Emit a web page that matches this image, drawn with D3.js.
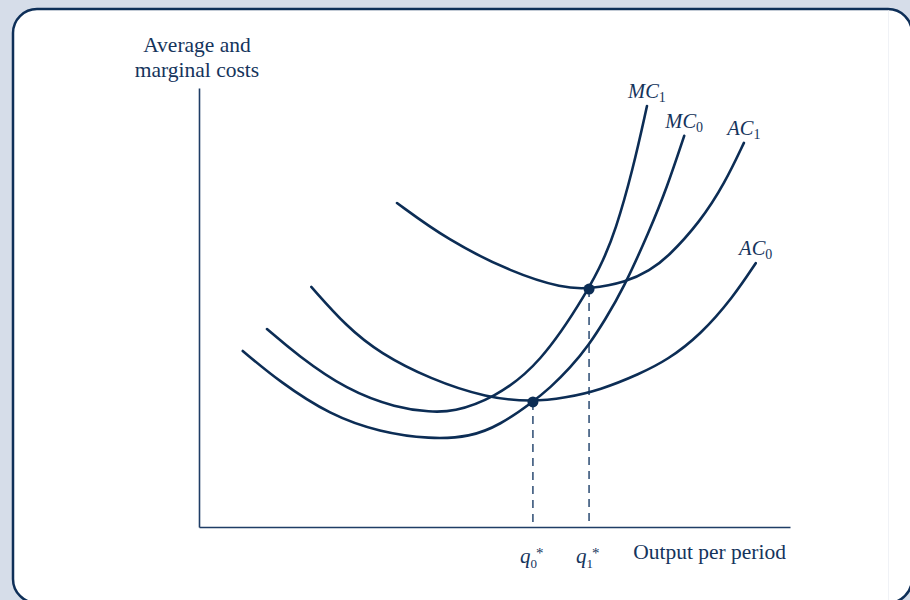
<!DOCTYPE html>
<html>
<head>
<meta charset="utf-8">
<script src="https://cdn.jsdelivr.net/npm/d3@7"></script>
<style>
  html, body { margin: 0; padding: 0; background: #d6dde9; }
  svg { display: block; }
  text { font-family: "Liberation Serif", "DejaVu Serif", serif; fill: #15345c; }
</style>
</head>
<body>
<svg id="chart" width="910" height="600"></svg>
<script>
// ---- Data (output per period, cost) ----
const mc0X = [7.4, 13.7, 22.2, 30.6, 39.1, 45.9, 50.9, 56.5, 59.4, 62.8, 66.0, 68.7, 71.7, 76.3, 79.2, 82.1];
const mc0Y = [40.1, 33.0, 25.5, 21.6, 20.0, 20.5, 23.2, 28.5, 31.7, 36.2, 41.5, 47.2, 54.0, 67.7, 77.4, 89.1];

const mc1X = [11.5, 16.6, 25.0, 33.5, 39.1, 43.0, 49.7, 57.7, 66.0, 68.4, 70.4, 73.4, 75.8];
const mc1Y = [45.1, 39.2, 31.2, 27.1, 26.2, 26.2, 29.2, 36.9, 54.2, 60.8, 67.2, 81.3, 95.9];

const ac0X = [19.0, 25.0, 30.6, 39.1, 48.7, 56.5, 61.9, 67.9, 74.6, 79.2, 84.8, 90.4, 94.2];
const ac0Y = [54.7, 45.6, 39.6, 33.7, 29.4, 28.5, 29.4, 31.2, 34.9, 38.0, 43.7, 52.4, 60.1];

const ac1X = [33.5, 42.0, 53.1, 61.6, 66.0, 72.4, 76.3, 79.2, 84.8, 89.0, 92.2];
const ac1Y = [73.8, 65.4, 57.9, 54.4, 54.2, 55.8, 58.5, 61.3, 69.5, 78.4, 87.5];

const curveNames = ["MC", "MC", "AC", "AC"];
const curveSubs  = ["1", "0", "1", "0"];

const eqQ    = [56.5, 66.0];   // q0*, q1*
const eqCost = [28.5, 54.2];
const eqSubs = ["0", "1"];

const yTitle = ["Average and", "marginal costs"];
const xTitle = "Output per period";

// ---- Build ----
const svg = d3.select("#chart");
const ink = "#0c2d55";

// panel
const px0 = 13, py0 = 9, px1 = 912, py1 = 603, r = 24;
svg.append("path")
  .attr("d", `M${px0},${py1 - r} V${py0 + r} A${r},${r} 0 0 1 ${px0 + r},${py0} H${px1 - r} A${r},${r} 0 0 1 ${px1},${py0 + r} V${py1 - r} A${r},${r} 0 0 1 ${px1 - r},${py1} H${px0 + r} A${r},${r} 0 0 1 ${px0},${py1 - r} Z`)
  .attr("fill", "#ffffff")
  .attr("stroke", "#0e2f58")
  .attr("stroke-width", 2.5);
svg.append("line")
  .attr("x1", 888.5).attr("x2", 888.5).attr("y1", 10.5).attr("y2", 600)
  .attr("stroke", "#f0f2f6").attr("stroke-width", 1);

const x = d3.scaleLinear().domain([0, 100]).range([199, 790]);
const y = d3.scaleLinear().domain([0, 100]).range([527, 88]);

// axes
const gx = svg.append("g").attr("transform", `translate(0,${y(0)})`)
  .call(d3.axisBottom(x).tickValues([]).tickSizeOuter(0));
const gy = svg.append("g").attr("transform", `translate(${x(0)},0)`)
  .call(d3.axisLeft(y).tickValues([]).tickSizeOuter(0));
[gx, gy].forEach(g => g.select(".domain").attr("stroke", "#1f3d66").attr("stroke-width", 1.6));

// dashed guides
eqQ.forEach((q, i) => {
  svg.append("line")
    .attr("x1", x(q)).attr("x2", x(q))
    .attr("y1", y(eqCost[i])).attr("y2", y(0))
    .attr("stroke", "#2b4a72").attr("stroke-width", 1.5)
    .attr("stroke-dasharray", "8,6");
});

// curves
const series = [
  [mc1X, mc1Y], [mc0X, mc0Y], [ac1X, ac1Y], [ac0X, ac0Y]
];
const line = d3.line()
  .x(d => x(d[0])).y(d => y(d[1]))
  .curve(d3.curveBasis);

series.forEach(([xs, ys], i) => {
  const pts = xs.map((v, k) => [v, ys[k]]);
  svg.append("path")
    .attr("d", line(pts))
    .attr("fill", "none")
    .attr("stroke", ink)
    .attr("stroke-width", 2.6)
    .attr("stroke-linecap", "round");
  const end = pts[pts.length - 1];
  const t = svg.append("text")
    .attr("x", x(end[0]))
    .attr("y", y(end[1]) - 8)
    .attr("text-anchor", "middle")
    .style("font-style", "italic")
    .style("font-size", "20.5px");
  t.append("tspan").text(curveNames[i]);
  t.append("tspan").attr("dy", 4).style("font-size", "14px").style("font-style", "normal").text(curveSubs[i]);
});

// equilibrium dots
eqQ.forEach((q, i) => {
  svg.append("circle")
    .attr("cx", x(q)).attr("cy", y(eqCost[i]))
    .attr("r", 5.5)
    .attr("fill", ink);
});

// q labels (single text element each: q, subscript, superscript star)
eqQ.forEach((q, i) => {
  const qx = x(q);
  const t = svg.append("text")
    .attr("x", qx - 13).attr("y", 563)
    .style("font-style", "italic").style("font-size", "21px");
  t.append("tspan").text("q");
  t.append("tspan").attr("dy", 5).style("font-size", "13px").style("font-style", "normal").text(eqSubs[i]);
  t.append("tspan").attr("dx", -1).attr("dy", -10).style("font-size", "15px").style("font-style", "normal").text("*");
});

// axis titles
yTitle.forEach((s, i) => {
  svg.append("text")
    .attr("x", 197).attr("y", 52 + i * 25)
    .attr("text-anchor", "middle")
    .style("font-size", "21.5px")
    .text(s);
});
svg.append("text")
  .attr("x", 786).attr("y", 559)
  .attr("text-anchor", "end")
  .style("font-size", "21.5px")
  .text(xTitle);
</script>
</body>
</html>
